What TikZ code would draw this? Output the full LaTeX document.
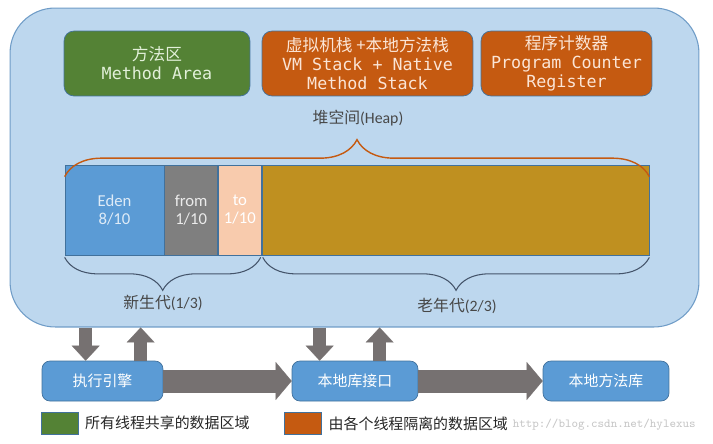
\documentclass[tikz,border=0pt]{standalone}
\usepackage{fontspec}
\setmainfont{Carlito}
\setmonofont{DejaVu Sans Mono}
\newfontfamily\cjk{Noto Sans CJK SC}
\usetikzlibrary{positioning}
\usetikzlibrary{calc}
\usetikzlibrary{arrows.meta}
\usetikzlibrary{decorations.pathreplacing}
\definecolor{jvmfill}{HTML}{BDD7EE}
\definecolor{jvmline}{HTML}{6F9CC7}
\definecolor{boxline}{HTML}{41719C}
\definecolor{sharedgreen}{HTML}{548235}
\definecolor{sharedtext}{HTML}{E2F0D9}
\definecolor{privorange}{HTML}{C55A11}
\definecolor{privtext}{HTML}{FBE5D6}
\definecolor{edenblue}{HTML}{5B9BD5}
\definecolor{edentext}{HTML}{DEEBF7}
\definecolor{fromgray}{HTML}{7F7F7F}
\definecolor{topeach}{HTML}{F8CBAD}
\definecolor{oldgold}{HTML}{BF9020}
\definecolor{bracegray}{HTML}{44546A}
\definecolor{arrowgray}{HTML}{767171}
\definecolor{legendgray}{HTML}{262626}
\tikzset{
    jvm/.style = {rectangle, rounded corners=0.9cm, draw=jvmline, line width=0.6pt, fill=jvmfill, minimum width=13.78cm, minimum height=6.38cm},
    area/.style = {rectangle, rounded corners=0.2cm, draw=boxline, line width=0.4pt, minimum height=1.3cm, align=center, inner sep=1pt, font=\fontsize{9.5}{10.8}\selectfont},
    shared/.style = {area, fill=sharedgreen, text=sharedtext},
    private/.style = {area, fill=privorange, text=privtext},
    heapcell/.style = {rectangle, draw=boxline, line width=0.4pt, minimum height=1.8cm, inner sep=0pt, align=center, font=\fontsize{9.5}{10.2}\selectfont},
    heaplabel/.style = {text=legendgray!85, inner sep=1pt, font=\fontsize{9}{10}\selectfont},
    engine/.style = {rectangle, rounded corners=0.16cm, draw=boxline, line width=0.4pt, fill=edenblue, text=white, minimum width=2.52cm, minimum height=0.8cm, font=\cjk\fontsize{8.5}{10}\selectfont},
    legendbox/.style = {rectangle, draw=boxline, line width=0.4pt, minimum width=0.74cm, minimum height=0.44cm},
    legendtext/.style = {text=legendgray, inner sep=0pt, font=\cjk\fontsize{8.5}{10}\selectfont},
    watermark/.style = {text=black!22, inner sep=0pt, font=\fontfamily{lmtt}\fontsize{7}{9}\selectfont},
    blockv/.style = {draw=arrowgray, line width=0.26cm, -{Triangle[length=0.3cm,width=0.56cm,line width=0.1pt]}},
    blockh/.style = {draw=arrowgray, line width=0.46cm, -{Triangle[length=0.32cm,width=0.76cm,line width=0.1pt]}},
    heapbrace/.style = {decorate, decoration={brace, amplitude=0.74cm}, draw=privorange, line width=0.8pt},
    genbrace/.style = {decorate, decoration={brace, mirror, amplitude=0.66cm}, draw=bracegray, line width=0.6pt}
}
\begin{document}
\begin{tikzpicture}[x=0.02cm,y=-0.02cm]
\useasboundingbox (0,0) rectangle (713,443);
%
\node[jvm] (jvm) at (354.5,167.5) {};
\node[shared, minimum width=3.72cm] (methodarea) at (157,63.5) {{\cjk 方法区}\\{\ttfamily Method Area}};
\node[private, minimum width=4.22cm] (vmstack) at (367.5,63.5) {{\cjk 虚拟机栈 +本地方法栈}\\{\ttfamily VM Stack + Native}\\{\ttfamily Method Stack}};
\node[private, minimum width=3.42cm] (pcreg) at (566.5,63.5) {{\cjk 程序计数器}\\{\ttfamily Program Counter}\\{\ttfamily Register}};
\node[heaplabel] (heaptitle) at (358,118) {{\cjk 堆空间}(Heap)};
%
\node[heapcell, fill=edenblue, text=edentext, minimum width=1.98cm] (eden) at (114.5,210) {Eden\\8/10};
\node[heapcell, fill=fromgray, text=white!92!black, minimum width=1.06cm, right=0cm of eden] (fromspace) {from\\1/10};
\node[heapcell, fill=topeach, text=white, minimum width=0.86cm, right=0cm of fromspace] (tospace) {to\\1/10};
\node[heapcell, fill=oldgold, minimum width=7.74cm, right=0cm of tospace] (old) {};
%
\draw[heapbrace] ($(eden.north west)+(0,12)$) -- ($(old.north east)+(0,12)$);
\draw[genbrace] ($(eden.south west)+(0,2)$) -- ($(tospace.south east)+(-1,2)$);
\draw[genbrace] ($(old.south west)+(1,2)$) -- ($(old.south east)+(0,2)$);
\node[heaplabel] (younglabel) at (163,303) {{\cjk 新生代}(1/3)};
\node[heaplabel] (oldlabel) at (457,306) {{\cjk 老年代}(2/3)};
%
\node[engine, minimum width=2.42cm] (exec) at (102.5,381) {执行引擎};
\node[engine] (native) at (355,381) {本地库接口};
\node[engine] (nlib) at (606,381) {本地方法库};
%
\coordinate (execin) at ($(exec.north west)+(44,0)$);
\coordinate (execout) at ($(exec.north west)+(99,0)$);
\coordinate (nativein) at ($(native.north west)+(28,0)$);
\coordinate (nativeout) at ($(native.north west)+(88,0)$);
\draw[blockv] (execin |- jvm.south) -- (execin);
\draw[blockv] (execout) -- (execout |- jvm.south);
\draw[blockv] (nativein |- jvm.south) -- (nativein);
\draw[blockv] (nativeout) -- (nativeout |- jvm.south);
\draw[blockh] (exec) -- (native);
\draw[blockh] (native) -- (nlib);
%
\node[legendbox, fill=sharedgreen] (sharedkey) at (60,423) {};
\node[legendtext, right=0.12cm of sharedkey] (sharedtext) {所有线程共享的数据区域};
\node[legendbox, fill=privorange] (privkey) at (302.5,423.5) {};
\node[legendtext, right=0.14cm of privkey] (privtext) {由各个线程隔离的数据区域};
\node[watermark, anchor=east] (wm) at (696,425) {http://blog.csdn.net/hylexus};

\end{tikzpicture}
\end{document}
